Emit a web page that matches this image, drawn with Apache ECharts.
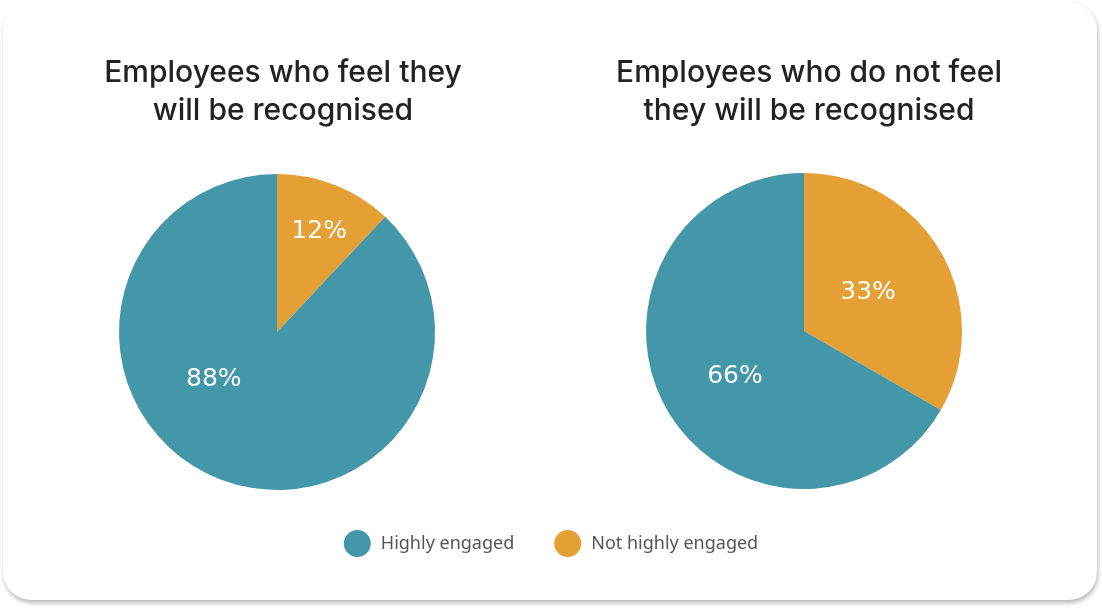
<!DOCTYPE html>
<html>
<head>
<meta charset="utf-8">
<script src="https://cdn.jsdelivr.net/npm/echarts@6/dist/echarts.min.js"></script>
<style>
  html, body { margin: 0; padding: 0; background: #ffffff; }
  #card {
    position: absolute; left: 3px; top: 2px; width: 1094px; height: 598px;
    background: #ffffff; border-radius: 28px;
    box-shadow: 1px 3px 4px rgba(0, 0, 0, 0.28);
  }
  #chart { position: absolute; left: 0; top: 0; width: 1102px; height: 611px; }
</style>
</head>
<body>
<div id="card"></div>
<div id="chart"></div>
<script>
const categories = ['Not highly engaged', 'Highly engaged']
const legendOrder = ['Highly engaged', 'Not highly engaged']
const titles = ['Employees who feel they\nwill be recognised', 'Employees who do not feel\nthey will be recognised']
const recognisedValues = [12, 88]
const notRecognisedValues = [33, 66]
const colors = ['#E4A035', '#4397A8']

const chart = echarts.init(document.getElementById('chart'))

// label nudges so the percentages sit where the original puts them
function makePie (values, center, offsets) {
  return {
    type: 'pie',
    center: center,
    radius: [0, 158],
    startAngle: 90,
    clockwise: true,
    silent: true,
    label: {
      show: true,
      position: 'inside',
      formatter: '{c}%',
      color: '#ffffff',
      fontSize: 25,
      fontFamily: '"DejaVu Sans", sans-serif'
    },
    labelLine: { show: false },
    itemStyle: { borderWidth: 0 },
    data: values.map((v, i) => ({
      name: categories[i],
      value: v,
      itemStyle: { color: colors[i] },
      label: { offset: offsets[i] }
    }))
  }
}

const titleStyle = { fontSize: 30, fontWeight: 500, color: '#222222', lineHeight: 38, fontFamily: 'Inter, "Noto Sans", sans-serif' }

const option = {
  animation: false,
  title: [
    { text: titles[0], left: 278, top: 49, textAlign: 'center', textStyle: titleStyle },
    { text: titles[1], left: 804, top: 49, textAlign: 'center', textStyle: titleStyle }
  ],
  legend: {
    data: legendOrder,
    left: 'center',
    top: 525,
    icon: 'circle',
    itemWidth: 27,
    itemHeight: 27,
    itemGap: 40,
    textStyle: { fontSize: 18, color: '#555555', padding: [0, 0, 0, 5], fontFamily: '"Noto Sans", sans-serif' }
  },
  series: [
    makePie(recognisedValues, [277, 332], [[12, -24], [-33, -29]]),
    makePie(notRecognisedValues, [804, 331], [[-7, 2], [2, 4]])
  ]
}

chart.setOption(option)
</script>
</body>
</html>
